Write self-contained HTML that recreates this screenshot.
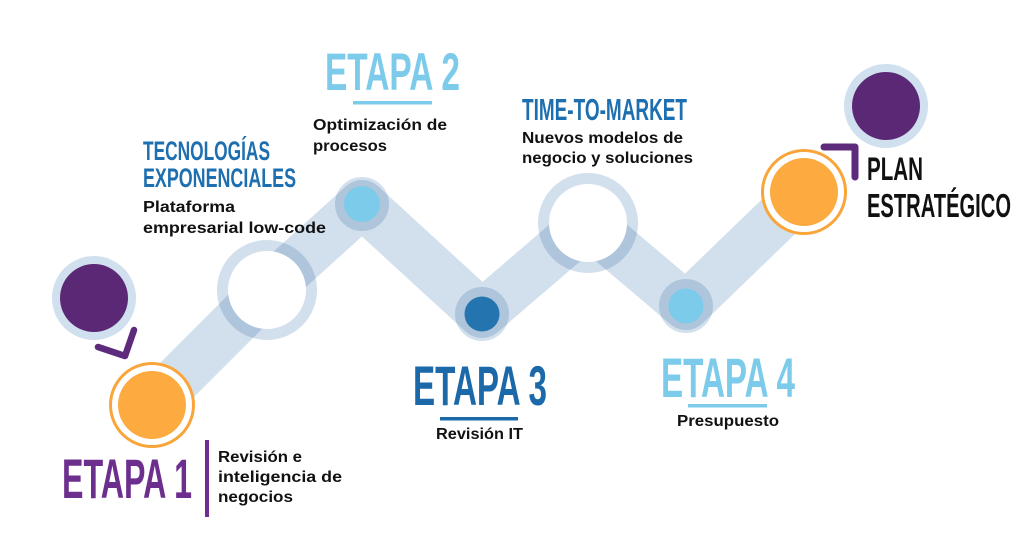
<!DOCTYPE html>
<html><head><meta charset="utf-8"><style>
html,body{margin:0;padding:0;background:#fff;}
svg{display:block;}
.h{font-family:"Liberation Sans",sans-serif;font-weight:bold;}
.b{font-family:"Liberation Sans",sans-serif;font-weight:bold;fill:#111;font-size:16px;}
</style></head><body>
<svg width="1024" height="555" viewBox="0 0 1024 555" xmlns="http://www.w3.org/2000/svg">
<rect width="1024" height="555" fill="#fff"/>
<!-- band -->
<polyline points="152,405 267,290 362,204 482,314 588,223 686,306 804,192" fill="none" stroke="#1f5f9f" stroke-opacity="0.2" stroke-width="48" stroke-linejoin="round" stroke-linecap="butt"/>
<!-- white ring nodes -->
<circle cx="267" cy="290" r="39" fill="#fff"/>
<circle cx="267" cy="290" r="44.5" fill="none" stroke="#1f5f9f" stroke-opacity="0.2" stroke-width="11"/>
<circle cx="588" cy="223" r="39" fill="#fff"/>
<circle cx="588" cy="223" r="44.5" fill="none" stroke="#1f5f9f" stroke-opacity="0.2" stroke-width="11"/>
<!-- small nodes -->
<circle cx="362" cy="204" r="27" fill="#1f5f9f" fill-opacity="0.2"/>
<circle cx="362" cy="204" r="18" fill="#7ccbeb"/>
<circle cx="482" cy="314" r="27" fill="#1f5f9f" fill-opacity="0.2"/>
<circle cx="482" cy="314" r="17.5" fill="#2474b0"/>
<circle cx="686" cy="306" r="27" fill="#1f5f9f" fill-opacity="0.2"/>
<circle cx="686" cy="306" r="17.5" fill="#7ccbeb"/>
<!-- orange circles -->
<circle cx="152" cy="405" r="41.5" fill="#fff" stroke="#f9a53a" stroke-width="3"/>
<circle cx="152" cy="405" r="34" fill="#fdab40"/>
<circle cx="804" cy="192" r="41.5" fill="#fff" stroke="#f9a53a" stroke-width="3"/>
<circle cx="804" cy="192" r="34" fill="#fdab40"/>
<!-- purple circles -->
<circle cx="94" cy="298" r="42" fill="#d0e0ee"/>
<circle cx="94" cy="298" r="34" fill="#5b2876"/>
<circle cx="886" cy="106" r="42" fill="#d0e0ee"/>
<circle cx="886" cy="106" r="34" fill="#5b2876"/>
<!-- marks -->
<polyline points="98,347 125,356 134,330" fill="none" stroke="#5d2a7c" stroke-width="6.5" stroke-linecap="round" stroke-linejoin="round"/>
<polyline points="824,147 855,147 855,177" fill="none" stroke="#5d2a7c" stroke-width="7" stroke-linecap="round" stroke-linejoin="round"/>
<rect x="205" y="440" width="4" height="77" fill="#6d2f8e"/>
<!-- underlines -->
<rect x="353" y="101" width="79" height="3.5" fill="#7ccbeb"/>
<rect x="440" y="417" width="78" height="3.5" fill="#1b69a8"/>
<rect x="688" y="404" width="79" height="3.5" fill="#7ccbeb"/>
<!-- headings -->
<text class="h" x="62" y="498" font-size="56" fill="#6d2f8e" textLength="130" lengthAdjust="spacingAndGlyphs">ETAPA 1</text>
<text class="h" x="325" y="90" font-size="53" fill="#7ccbeb" textLength="135" lengthAdjust="spacingAndGlyphs">ETAPA 2</text>
<text class="h" x="413" y="405" font-size="56" fill="#1b69a8" textLength="134" lengthAdjust="spacingAndGlyphs">ETAPA 3</text>
<text class="h" x="661" y="397" font-size="56" fill="#7ccbeb" textLength="134" lengthAdjust="spacingAndGlyphs">ETAPA 4</text>
<text class="h" x="143" y="160" font-size="27" fill="#1d6fb0" textLength="127" lengthAdjust="spacingAndGlyphs">TECNOLOGÍAS</text>
<text class="h" x="143" y="187" font-size="27" fill="#1d6fb0" textLength="153" lengthAdjust="spacingAndGlyphs">EXPONENCIALES</text>
<text class="h" x="522" y="120" font-size="31" fill="#1d6fb0" textLength="165" lengthAdjust="spacingAndGlyphs">TIME-TO-MARKET</text>
<text class="h" x="867" y="180" font-size="32" fill="#111" textLength="56" lengthAdjust="spacingAndGlyphs">PLAN</text>
<text class="h" x="867" y="217" font-size="33" fill="#111" textLength="144" lengthAdjust="spacingAndGlyphs">ESTRATÉGICO</text>
<!-- body -->
<text class="b" x="218" y="462" textLength="84" lengthAdjust="spacingAndGlyphs">Revisión e</text>
<text class="b" x="218" y="482" textLength="124" lengthAdjust="spacingAndGlyphs">inteligencia de</text>
<text class="b" x="218" y="502" textLength="75" lengthAdjust="spacingAndGlyphs">negocios</text>
<text class="b" x="313" y="130" textLength="134" lengthAdjust="spacingAndGlyphs">Optimización de</text>
<text class="b" x="313" y="151" textLength="74" lengthAdjust="spacingAndGlyphs">procesos</text>
<text class="b" x="143" y="212" textLength="92" lengthAdjust="spacingAndGlyphs">Plataforma</text>
<text class="b" x="143" y="233" textLength="183" lengthAdjust="spacingAndGlyphs">empresarial low-code</text>
<text class="b" x="522" y="143" textLength="161" lengthAdjust="spacingAndGlyphs">Nuevos modelos de</text>
<text class="b" x="522" y="163" textLength="171" lengthAdjust="spacingAndGlyphs">negocio y soluciones</text>
<text class="b" x="436" y="439" textLength="87" lengthAdjust="spacingAndGlyphs">Revisión IT</text>
<text class="b" x="677" y="426" textLength="102" lengthAdjust="spacingAndGlyphs">Presupuesto</text>
</svg>
</body></html>
